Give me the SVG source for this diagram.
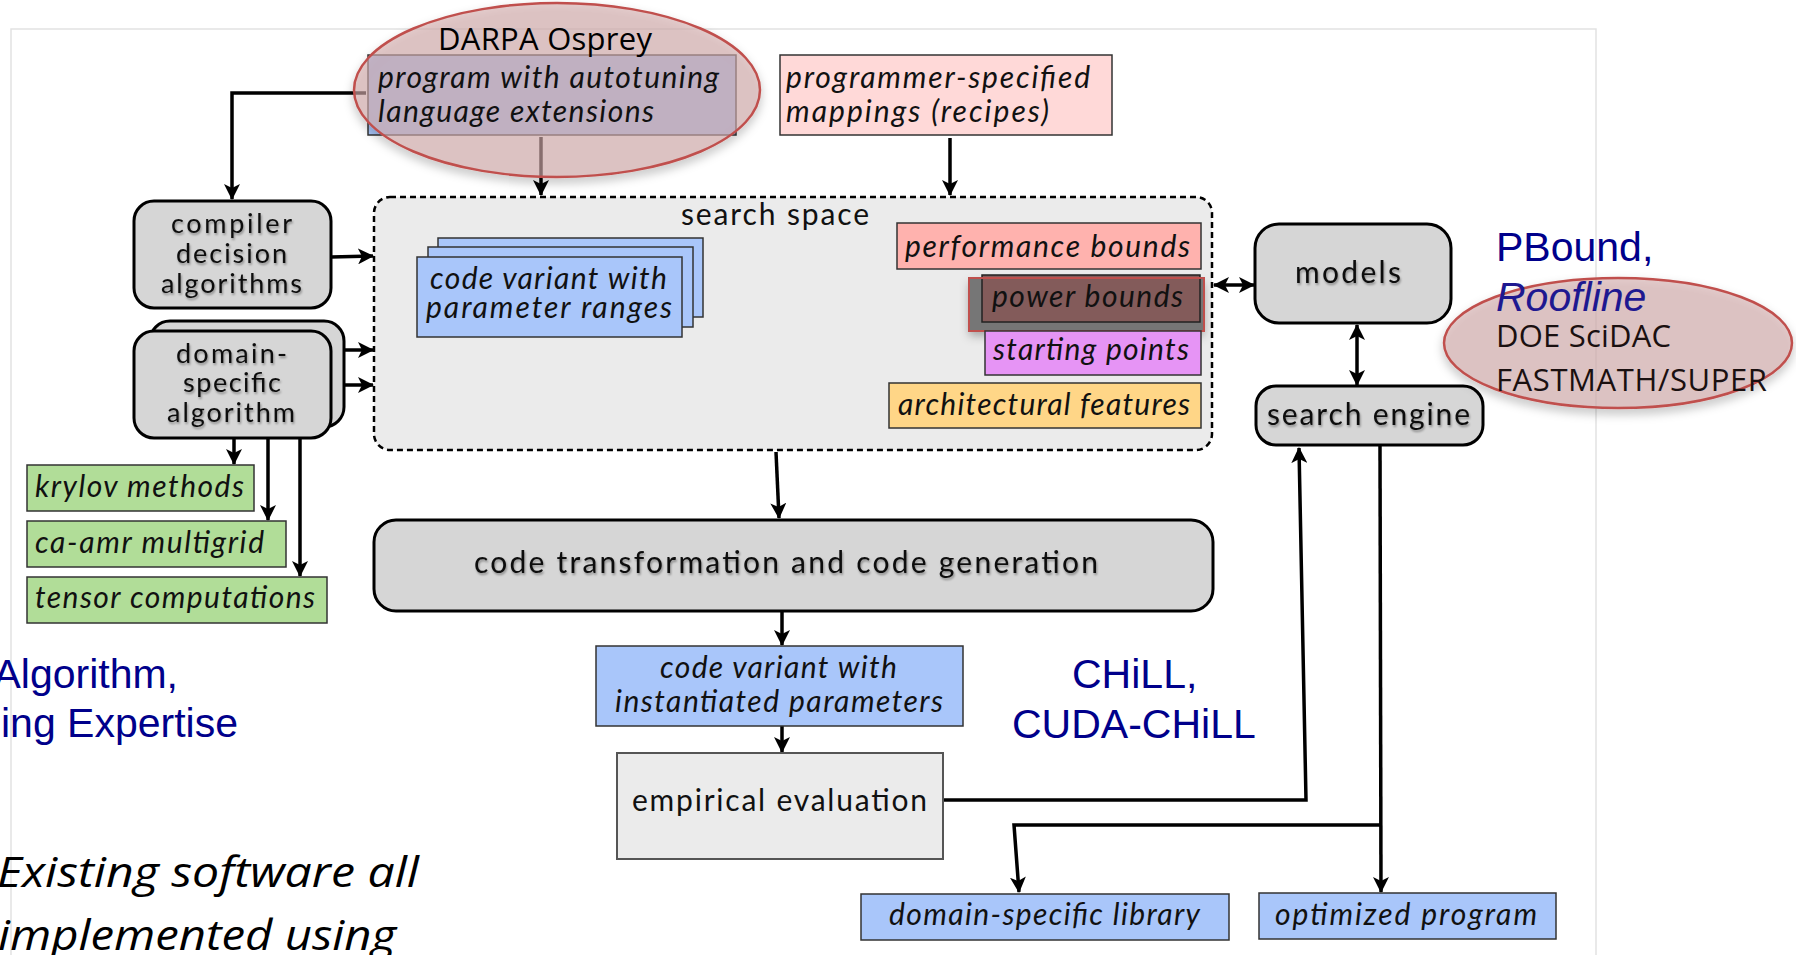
<svg xmlns="http://www.w3.org/2000/svg" width="1796" height="955" viewBox="0 0 1796 955">
<defs>
<style>
.g{font-family:Lato,"Open Sans",sans-serif;font-size:30px;fill:#111}
.gs{font-family:Lato,"Open Sans",sans-serif;font-size:27px;fill:#111}
.gi{font-family:Lato,"Open Sans",sans-serif;font-style:italic;font-size:30px;fill:#111}
.c{font-family:"Open Sans","Noto Sans",sans-serif;font-size:31px;fill:#1a1010}
.ci{font-family:"Open Sans","Noto Sans",sans-serif;font-style:italic;font-size:42px;fill:#000}
.a{font-family:"Liberation Sans",Arial,sans-serif;font-size:41px;fill:#00008b}
.gray{fill:#d6d6d6;stroke:#000;stroke-width:3}
.box{stroke:#333;stroke-width:1.5}
.blue{fill:#a9c6fa}
.green{fill:#b1dd98}
.oval{fill:#d5aeae;fill-opacity:0.6;stroke:#c0504d;stroke-width:2.5}
.ln{fill:none;stroke:#000;stroke-width:3.5;marker-end:url(#ah)}
</style>
<marker id="ah" viewBox="0 0 16 16" refX="15" refY="8" markerWidth="16" markerHeight="16" markerUnits="userSpaceOnUse" orient="auto-start-reverse">
<path d="M0,0 L16,8 L0,16 L4,8 Z" fill="#000"/>
</marker>
<filter id="ts" x="-10%" y="-40%" width="120%" height="180%">
<feDropShadow dx="1" dy="2" stdDeviation="1.2" flood-color="#000" flood-opacity="0.35"/>
</filter>
<filter id="sh" x="-10%" y="-10%" width="120%" height="140%">
<feDropShadow dx="0" dy="5" stdDeviation="5" flood-color="#000" flood-opacity="0.3"/>
</filter>
</defs>

<rect width="1796" height="955" fill="#fff"/>
<rect x="11" y="29" width="1585" height="960" fill="#fff" stroke="#e2e2e2" stroke-width="1.5"/>

<g id="connectors">
<path class="ln" d="M366,93 L232,93 L232,199"/>
<path class="ln" d="M541,137 L541,195"/>
<path class="ln" d="M950,138 L950,195"/>
<path class="ln" d="M331,257 L373,256"/>
<path class="ln" d="M344,350 L373,350"/>
<path class="ln" d="M331,385 L373,385"/>
<path class="ln" d="M234,438 L234,464"/>
<path class="ln" d="M268,438 L268,520"/>
<path class="ln" d="M300,428 L300,576"/>
<path class="ln" d="M776,452 L779,518"/>
<path class="ln" d="M782,611 L782,645"/>
<path class="ln" d="M782,726 L782,752"/>
<path class="ln" d="M942,800 L1306,800 L1299,448"/>
<path class="ln" d="M1380,446 L1381,892"/>
<path class="ln" d="M1381,825 L1014,825 L1019,892"/>
<path class="ln" style="marker-start:url(#ah)" d="M1214,285 L1254,285"/>
<path class="ln" style="marker-start:url(#ah)" d="M1357,325 L1357,385"/>
</g>

<g id="search-space">
<rect x="374" y="197" width="838" height="253" rx="16" fill="#ebebeb" stroke="#000" stroke-width="2.5" stroke-dasharray="6 4"/>
<text class="g" x="681" y="225" textLength="188" lengthAdjust="spacing">search space</text>
</g>

<g id="code-variant-ranges">
<rect class="box blue" x="438" y="238" width="265" height="79"/>
<rect class="box blue" x="428" y="247" width="265" height="80"/>
<rect class="box blue" x="417" y="257" width="265" height="80"/>
<text class="gi" x="430" y="289" textLength="237" lengthAdjust="spacing">code variant with</text>
<text class="gi" x="426" y="318" textLength="246" lengthAdjust="spacing">parameter ranges</text>
</g>

<g id="performance-bounds">
<rect class="box" x="897" y="223" width="304" height="46" fill="#ffb2ae"/>
<text class="gi" x="905" y="257" textLength="285" lengthAdjust="spacing">performance bounds</text>
</g>

<g id="power-bounds">
<rect x="969" y="278" width="235" height="53" fill="#767676" filter="url(#sh)"/>
<rect x="982" y="275" width="218" height="47" fill="#835b5a" stroke="#222" stroke-width="1.5"/>
<rect x="969" y="278" width="235" height="53" fill="none" stroke="#c0504d" stroke-width="2"/>
<text class="gi" x="992" y="307" textLength="191" lengthAdjust="spacing">power bounds</text>
</g>

<g id="starting-points">
<rect class="box" x="985" y="331" width="216" height="44" fill="#e694f5"/>
<text class="gi" x="993" y="360" textLength="196" lengthAdjust="spacing">starting points</text>
</g>

<g id="architectural-features">
<rect class="box" x="889" y="383" width="312" height="45" fill="#ffd687"/>
<text class="gi" x="898" y="415" textLength="292" lengthAdjust="spacing">architectural features</text>
</g>

<g id="program">
<rect class="box blue" x="368" y="55" width="368" height="80"/>
<ellipse class="oval" cx="557" cy="90" rx="203" ry="87" filter="url(#sh)"/>
<text class="c" x="438" y="50" textLength="214" lengthAdjust="spacing" style="fill:#000">DARPA Osprey</text>
<text class="gi" x="378" y="88" textLength="341" lengthAdjust="spacing">program with autotuning</text>
<text class="gi" x="378" y="122" textLength="276" lengthAdjust="spacing">language extensions</text>
</g>

<g id="programmer-mappings">
<rect class="box" x="780" y="55" width="332" height="80" fill="#ffd9d8"/>
<text class="gi" x="786" y="88" textLength="304" lengthAdjust="spacing">programmer-specified</text>
<text class="gi" x="786" y="122" textLength="263" lengthAdjust="spacing">mappings (recipes)</text>
</g>

<g id="compiler-decision">
<rect class="gray" x="134" y="201" width="197" height="107" rx="20"/>
<g filter="url(#ts)">
<text class="gs" x="171" y="233" textLength="121" lengthAdjust="spacing">compiler</text>
<text class="gs" x="176" y="263" textLength="111" lengthAdjust="spacing">decision</text>
<text class="gs" x="161" y="293" textLength="141" lengthAdjust="spacing">algorithms</text>
</g>
</g>

<g id="domain-specific-algorithm">
<rect class="gray" x="150" y="321" width="194" height="106" rx="20"/>
<rect class="gray" x="134" y="331" width="197" height="107" rx="20"/>
<g filter="url(#ts)">
<text class="gs" x="176" y="363" textLength="111" lengthAdjust="spacing">domain-</text>
<text class="gs" x="183" y="392" textLength="98" lengthAdjust="spacing">specific</text>
<text class="gs" x="167" y="422" textLength="128" lengthAdjust="spacing">algorithm</text>
</g>
</g>

<g id="krylov">
<rect class="box green" x="27" y="465" width="227" height="46"/>
<text class="gi" x="35" y="497" textLength="209" lengthAdjust="spacing">krylov methods</text>
</g>
<g id="ca-amr">
<rect class="box green" x="27" y="521" width="259" height="46"/>
<text class="gi" x="35" y="553" textLength="229" lengthAdjust="spacing">ca-amr multigrid</text>
</g>
<g id="tensor">
<rect class="box green" x="27" y="577" width="300" height="46"/>
<text class="gi" x="35" y="608" textLength="280" lengthAdjust="spacing">tensor computations</text>
</g>

<g id="models">
<rect class="gray" x="1255" y="224" width="196" height="99" rx="24"/>
<text class="g" x="1295" y="283" textLength="106" lengthAdjust="spacing" filter="url(#ts)">models</text>
</g>

<g id="search-engine">
<rect class="gray" x="1256" y="386" width="227" height="59" rx="20"/>
<text class="g" x="1267" y="425" textLength="203" lengthAdjust="spacing" filter="url(#ts)">search engine</text>
</g>

<g id="code-transformation">
<rect class="gray" x="374" y="520" width="839" height="91" rx="22"/>
<text class="g" x="474" y="573" textLength="624" lengthAdjust="spacing" filter="url(#ts)">code transformation and code generation</text>
</g>

<g id="code-variant-instantiated">
<rect class="box blue" x="596" y="646" width="367" height="80"/>
<text class="gi" x="660" y="678" textLength="237" lengthAdjust="spacing">code variant with</text>
<text class="gi" x="615" y="712" textLength="328" lengthAdjust="spacing">instantiated parameters</text>
</g>

<g id="empirical-evaluation">
<rect x="617" y="753" width="326" height="106" fill="#ebebeb" stroke="#555" stroke-width="2"/>
<text class="g" x="632" y="811" textLength="295" lengthAdjust="spacing">empirical evaluation</text>
</g>

<g id="domain-specific-library">
<rect class="box blue" x="861" y="894" width="368" height="46"/>
<text class="gi" x="889" y="925" textLength="311" lengthAdjust="spacing">domain-specific library</text>
</g>

<g id="optimized-program">
<rect class="box blue" x="1259" y="893" width="297" height="46"/>
<text class="gi" x="1275" y="925" textLength="262" lengthAdjust="spacing">optimized program</text>
</g>

<g id="annotations">
<text class="a" x="1496" y="261">PBound,</text>
<ellipse class="oval" cx="1618" cy="343" rx="174" ry="65" filter="url(#sh)"/>
<text class="a" x="1496" y="311" style="font-style:italic;fill:#1e1890">Roofline</text>
<text class="c" x="1496" y="347" textLength="175" lengthAdjust="spacing">DOE SciDAC</text>
<text class="c" x="1496" y="391" textLength="271" lengthAdjust="spacing">FASTMATH/SUPER</text>
<text class="a" x="178" y="688" text-anchor="end">Algorithm,</text>
<text class="a" x="238" y="737" text-anchor="end">ing Expertise</text>
<text class="a" x="1072" y="688">CHiLL,</text>
<text class="a" x="1012" y="738">CUDA-CHiLL</text>
<text class="ci" x="-3" y="887" textLength="422" lengthAdjust="spacingAndGlyphs">Existing software all</text>
<text class="ci" x="-2" y="950" textLength="398" lengthAdjust="spacingAndGlyphs">implemented using</text>
</g>
</svg>
